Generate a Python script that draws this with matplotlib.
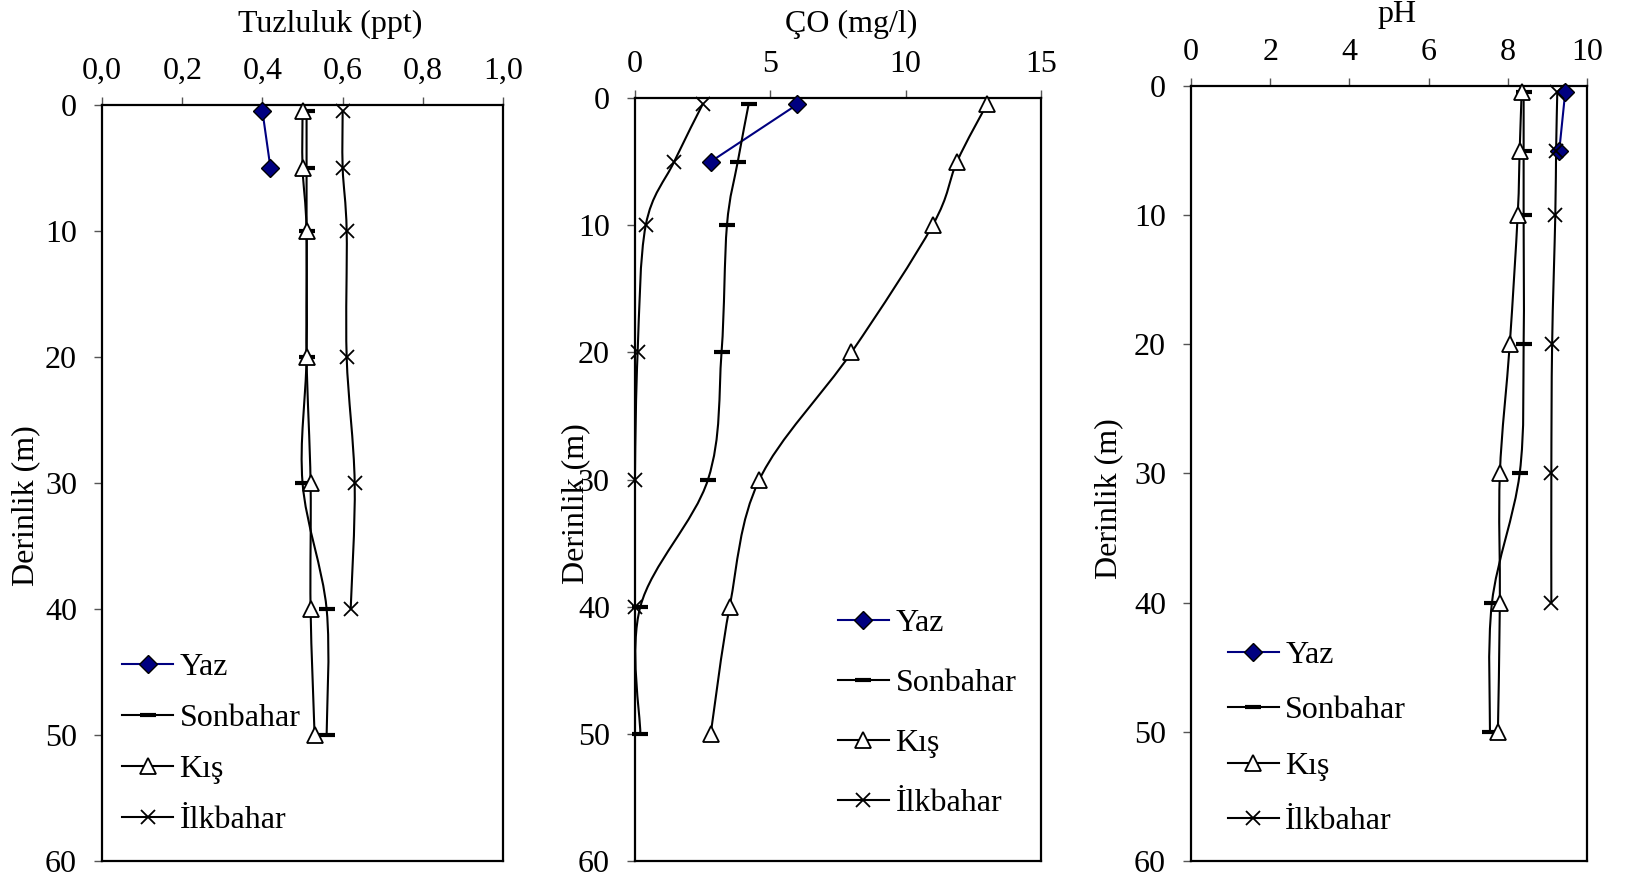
import matplotlib
matplotlib.use('Agg')
import matplotlib.pyplot as plt
import numpy as np
from matplotlib.path import Path
from matplotlib.patches import PathPatch
from matplotlib.lines import Line2D

plt.rcParams['font.family'] = ['Liberation Serif', 'DejaVu Serif']

derinlik = [0.5, 5, 10, 20, 30, 40, 50]
seriler = ['Yaz', 'Sonbahar', 'Kış', 'İlkbahar']

# Tuzluluk (ppt)
tuz_yaz = [0.40, 0.42]
tuz_sonbahar = [0.51, 0.51, 0.51, 0.51, 0.50, 0.56, 0.56]
tuz_kis = [0.50, 0.50, 0.51, 0.51, 0.52, 0.52, 0.53]
tuz_ilkbahar = [0.60, 0.60, 0.61, 0.61, 0.63, 0.62]

# Çözünmüş oksijen (mg/l)
co_yaz = [6.0, 2.8]
co_sonbahar = [4.2, 3.8, 3.4, 3.2, 2.7, 0.2, 0.2]
co_kis = [13.0, 11.9, 11.0, 8.0, 4.6, 3.5, 2.8]
co_ilkbahar = [2.5, 1.45, 0.4, 0.1, 0.0, 0.0]

# pH
ph_yaz = [9.45, 9.30]
ph_sonbahar = [8.4, 8.4, 8.4, 8.4, 8.3, 7.6, 7.55]
ph_kis = [8.35, 8.3, 8.25, 8.05, 7.8, 7.8, 7.75]
ph_ilkbahar = [9.25, 9.22, 9.2, 9.12, 9.1, 9.1]

tuz_ticks = [0, 0.2, 0.4, 0.6, 0.8, 1.0]
tuz_ticklabels = ['0,0', '0,2', '0,4', '0,6', '0,8', '1,0']
co_ticks = [0, 5, 10, 15]
ph_ticks = [0, 2, 4, 6, 8, 10]
derinlik_ticks = [0, 10, 20, 30, 40, 50, 60]

FS = 23


def smooth_path(x, y):
    # Excel tarzı yumuşatılmış çizgi: Catmull-Rom -> Bezier
    p = np.column_stack([x, y]).astype(float)
    n = len(p)
    verts = [p[0]]
    codes = [Path.MOVETO]
    for i in range(n - 1):
        p0 = p[i - 1] if i > 0 else p[i]
        p3 = p[i + 2] if i + 2 < n else p[i + 1]
        c1 = p[i] + (p[i + 1] - p0) / 6
        c2 = p[i + 1] - (p3 - p[i]) / 6
        verts += [c1, c2, p[i + 1]]
        codes += [Path.CURVE4] * 3
    return Path(verts, codes)


stiller = {
    'Yaz': dict(color='#000080', marker='D', mfc='#000080', mec='black', ms=9, mew=1),
    'Sonbahar': dict(color='black', marker='_', mfc='black', mec='black', ms=11, mew=3),
    'Kış': dict(color='black', marker='^', mfc='white', mec='black', ms=11, mew=1.3),
    'İlkbahar': dict(color='black', marker='x', mfc='black', mec='black', ms=10, mew=1.3),
}

fig = plt.figure(figsize=(16.28, 8.81), dpi=100)

paneller = [
    dict(pos=[0.0627, 0.0227, 0.2463, 0.858], veri=[tuz_yaz, tuz_sonbahar, tuz_kis, tuz_ilkbahar],
         xlim=(0, 1), xticks=tuz_ticks, xticklabels=tuz_ticklabels, baslik='Tuzluluk (ppt)',
         baslik_xy=(0.569, 1.097), ylab_xy=(-0.155, 0.47), leg=(0.05, 0.276), sp=0.68),
    dict(pos=[0.390, 0.0227, 0.2494, 0.866], veri=[co_yaz, co_sonbahar, co_kis, co_ilkbahar],
         xlim=(0, 15), xticks=co_ticks, xticklabels=[str(t) for t in co_ticks], baslik='ÇO (mg/l)',
         baslik_xy=(0.532, 1.0865), ylab_xy=(-0.111, 0.469), leg=(0.5, 0.331), sp=0.96),
    dict(pos=[0.7316, 0.0227, 0.2432, 0.8797], veri=[ph_yaz, ph_sonbahar, ph_kis, ph_ilkbahar],
         xlim=(0, 10), xticks=ph_ticks, xticklabels=[str(t) for t in ph_ticks], baslik='pH',
         baslik_xy=(0.52, 1.083), ylab_xy=(-0.172, 0.468), leg=(0.093, 0.284), sp=0.81),
]

for p in paneller:
    ax = fig.add_axes(p['pos'])
    for ad, x in zip(seriler, p['veri']):
        s = stiller[ad]
        d = derinlik[:len(x)]
        ax.add_patch(PathPatch(smooth_path(x, d), facecolor='none', edgecolor=s['color'],
                               lw=1.5, zorder=2))
        ax.plot(x, d, linestyle='none', marker=s['marker'], mfc=s['mfc'], mec=s['mec'],
                ms=s['ms'], mew=s['mew'], zorder=3, clip_on=False)
    ax.set_xlim(*p['xlim'])
    ax.set_ylim(60, 0)
    ax.xaxis.tick_top()
    ax.xaxis.set_label_position('top')
    ax.set_xticks(p['xticks'])
    ax.set_xticklabels(p['xticklabels'])
    ax.set_yticks(derinlik_ticks)
    ax.tick_params(axis='both', direction='out', length=6, width=1, color='#555555',
                   labelsize=FS)
    ax.tick_params(axis='x', pad=8)
    ax.tick_params(axis='y', pad=12)
    for sp in ax.spines.values():
        sp.set_linewidth(1.6)
    ax.set_xlabel(p['baslik'], fontsize=FS)
    ax.xaxis.set_label_coords(*p['baslik_xy'])
    ax.set_ylabel('Derinlik (m)', fontsize=FS)
    ax.yaxis.set_label_coords(*p['ylab_xy'])

    handles = []
    for ad in seriler:
        s = stiller[ad]
        handles.append(Line2D([], [], color=s['color'], lw=1.5, marker=s['marker'],
                              mfc=s['mfc'], mec=s['mec'], ms=s['ms'], mew=s['mew']))
    ax.legend(handles, seriler, loc='upper left', bbox_to_anchor=p['leg'], frameon=False,
              fontsize=FS, handlelength=1.6, handletextpad=0.2, borderpad=0,
              borderaxespad=0, labelspacing=p['sp'])

fig.savefig('out.png', dpi=100)
